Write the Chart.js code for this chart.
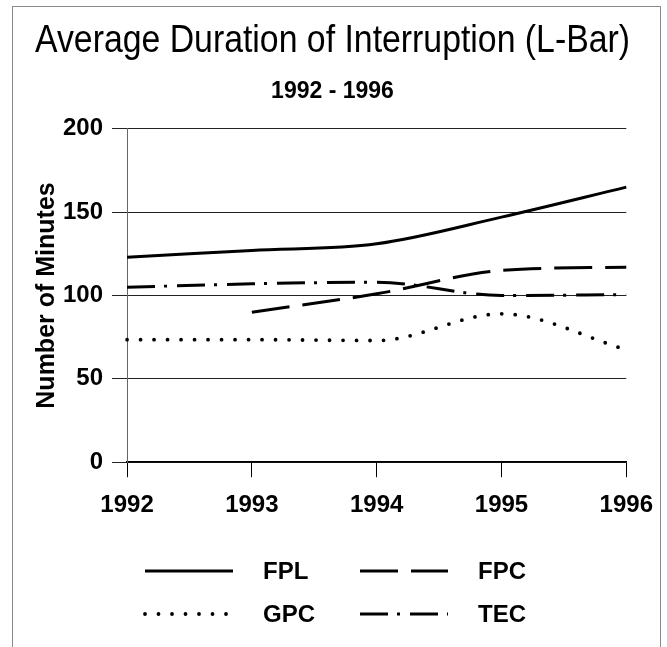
<!DOCTYPE html>
<html><head><meta charset="utf-8">
<script src="https://cdn.jsdelivr.net/npm/chart.js@4"></script>
<style>
html,body{margin:0;padding:0;background:#fff;overflow:hidden;}
#wrap{position:relative;width:667px;height:647px;background:#fff;}
#frame{position:absolute;left:12px;top:6px;width:647px;height:700px;border:1px solid #8a8a8a;pointer-events:none;}
canvas{position:absolute;left:0;top:0;}
</style></head><body>
<div id="wrap"><canvas id="c" width="667" height="647"></canvas><div id="frame"></div></div>
<script>
// ---- data ----
const years = ['1992', '1993', '1994', '1995', '1996'];
const fpl = [123, 127, 131, 147, 165];
const fpc = [null, 90, 101, 115, 117];
const gpc = [73.5, 73.5, 73, 89, 67.5];
const tec = [105, 107, 108, 100, 100.5];
const yTicks = [0, 50, 100, 150, 200];
const titleText = 'Average Duration of Interruption (L-Bar)';
const subtitleText = '1992 - 1996';
const yTitle = 'Number of Minutes';

const SANS = "'Liberation Sans', Arial, sans-serif";

const pairLegend = {
  id: 'pairLegend',
  afterDraw(chart, args, opts) {
    const ctx = chart.ctx;
    ctx.save();
    ctx.font = opts.font;
    ctx.textBaseline = 'middle';
    ctx.textAlign = 'left';
    chart.data.datasets.forEach((d, i) => {
      const col = i % 2, row = Math.floor(i / 2);
      const x0 = opts.colX[col], y = opts.rowY[row];
      ctx.beginPath();
      ctx.lineWidth = d.borderWidth;
      ctx.strokeStyle = d.borderColor;
      ctx.lineCap = d.borderCapStyle || 'butt';
      ctx.setLineDash(d.borderDash || []);
      ctx.moveTo(x0, y);
      ctx.lineTo(x0 + opts.sampleW, y);
      ctx.stroke();
      ctx.setLineDash([]);
      ctx.fillStyle = '#000';
      ctx.fillText(d.label, x0 + opts.sampleW + opts.gap, y + 1);
    });
    ctx.restore();
  }
};

const common = { borderColor: '#000', backgroundColor: '#000', pointRadius: 0, pointHoverRadius: 0, fill: false, cubicInterpolationMode: 'monotone', spanGaps: false };

new Chart(document.getElementById('c'), {
  type: 'line',
  data: {
    labels: years,
    datasets: [
      { ...common, label: 'FPL', data: fpl, borderWidth: 3 },
      { ...common, label: 'FPC', data: fpc, borderWidth: 3, borderDash: [38, 13] },
      { ...common, label: 'GPC', data: gpc, borderWidth: 3.8, borderDash: [0, 13.5], borderCapStyle: 'round' },
      { ...common, label: 'TEC', data: tec, borderWidth: 3, borderDash: [28, 9, 3, 10] }
    ]
  },
  options: {
    responsive: false,
    animation: false,
    devicePixelRatio: 1,
    layout: { autoPadding: false, padding: { left: 35, right: 37, top: 0, bottom: 113 } },
    plugins: {
      legend: { display: false },
      tooltip: { enabled: false },
      title: { display: true, text: titleText, color: '#000',
        font: { family: SANS, size: 38, weight: 'normal', lineHeight: 1.2 },
        padding: { top: 19, bottom: 10 } },
      subtitle: { display: true, text: subtitleText, color: '#000',
        font: { family: SANS, size: 23, weight: 'bold', lineHeight: 1.2 },
        padding: { top: 3.6, bottom: 23 } },
      pairLegend: { font: "bold 24px " + SANS, colX: [145, 360], rowY: [571, 614], sampleW: 88, gap: 30 }
    },
    scales: {
      x: {
        type: 'category', offset: false,
        grid: { display: true, drawOnChartArea: false, drawTicks: true, tickLength: 15, color: '#000', lineWidth: 1 },
        border: { display: true, color: '#000', width: 1.5 },
        ticks: { color: '#000', font: { family: SANS, size: 24, weight: 'bold' }, padding: 14, maxRotation: 0, autoSkip: false }
      },
      y: {
        min: 0, max: 200,
        afterBuildTicks: s => { s.ticks = yTicks.map(v => ({ value: v })); },
        grid: { color: '#222', lineWidth: 1, tickLength: 15 },
        border: { display: true, color: '#666', width: 1 },
        ticks: { color: '#000', font: { family: SANS, size: 24, weight: 'bold' }, padding: 9 },
        title: { display: true, text: yTitle, color: '#000', font: { family: SANS, size: 25, weight: 'bold', lineHeight: 1 }, padding: { top: 0, bottom: -6 } }
      }
    }
  },
  plugins: [pairLegend]
});
</script>
</body></html>
